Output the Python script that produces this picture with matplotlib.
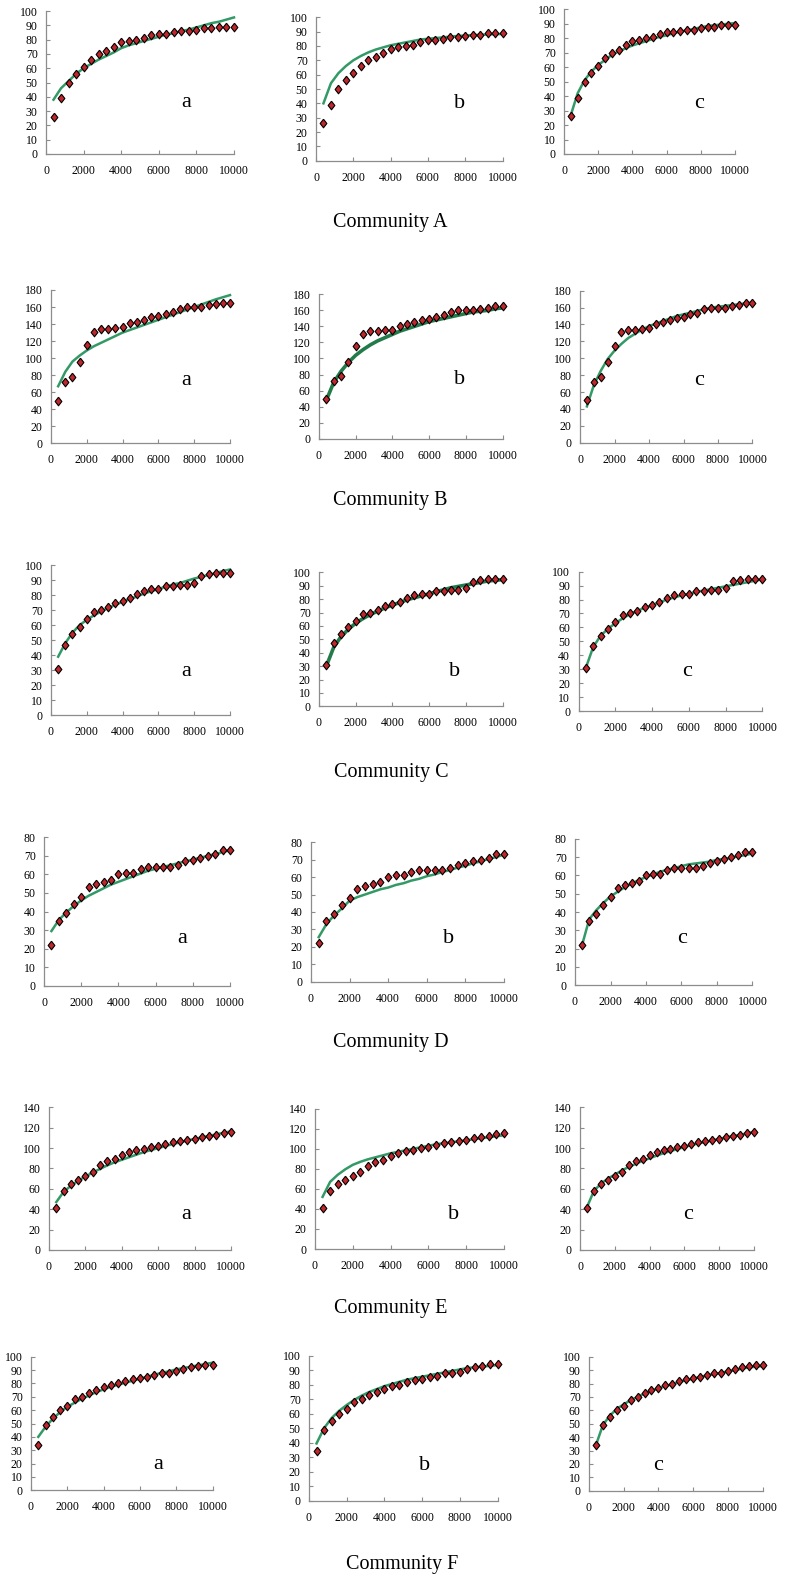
import matplotlib
matplotlib.use("Agg")
import matplotlib.pyplot as plt

plt.rcParams['font.family'] = ['Liberation Serif', 'DejaVu Serif']

# sample sizes (x) shared by every panel
sizes = [400, 800, 1200, 1600, 2000, 2400, 2800, 3200, 3600, 4000, 4400, 4800, 5200,
         5600, 6000, 6400, 6800, 7200, 7600, 8000, 8400, 8800, 9200, 9600, 10000]

# observed values per community
obs_A = [26, 39, 50, 56, 61, 66, 70, 72, 75, 78, 79, 80, 81, 83, 84, 84, 85, 86, 86, 87, 88, 88, 89, 89, 89]
obs_B = [50, 72, 78, 96, 115, 131, 134, 134, 135, 136, 141, 143, 145, 148, 149, 152, 154, 158, 160, 160, 160, 162, 163, 165, 165]
obs_C = [31, 47, 54, 59, 64, 69, 70, 72, 75, 76, 78, 81, 83, 84, 84, 86, 86, 87, 87, 88, 93, 94, 95, 95, 95]
obs_D = [22, 35, 39, 44, 48, 53, 55, 56, 57, 60, 61, 61, 63, 64, 64, 64, 64, 65, 67, 68, 69, 70, 71, 73, 73]
obs_E = [41, 58, 65, 69, 73, 77, 83, 87, 89, 93, 96, 98, 99, 101, 102, 104, 106, 107, 108, 109, 111, 112, 113, 115, 116]
obs_F = [34, 49, 55, 60, 63, 68, 70, 73, 75, 77, 79, 80, 82, 83, 84, 85, 86, 88, 88, 89, 91, 92, 93, 94, 94]

# fitted curves (a, b, c) per community
fit_A_a = [38, 46, 51, 56, 60, 63, 66, 68.5, 71, 74, 76, 77.5, 79, 80.5, 82, 83.5, 84.5, 86, 87, 88.5, 90, 91.5, 92.5, 94, 95.5]
fit_A_b = [40, 54, 61, 66, 70, 73, 75.5, 77.5, 79, 80.5, 81.5, 82.5, 83.5, 84.5, 85, 85.5, 86, 86.5, 87, 87.3, 87.6, 87.8, 88, 88.2, 88.4]
fit_A_c = [27, 42, 51, 57, 61.5, 65, 68.5, 71, 73, 75, 76.5, 78, 79.5, 81, 82, 83.5, 84.5, 85.5, 86.5, 87.5, 88.5, 89, 89.5, 90, 90.5]
fit_B_a = [67, 84, 96, 103, 109, 114, 118, 122, 126, 130, 133, 136, 139, 142, 145, 148, 151, 154, 157, 160, 163, 166, 169, 171.5, 174]
fit_B_b = [48, 70, 84, 95, 104, 111, 117, 122, 126, 130, 134, 137, 140, 143, 146, 148, 150, 152, 154, 156, 158, 159, 160, 162, 163]
fit_B_c = [43, 68, 85, 99, 109, 117, 124, 129, 134, 138, 141, 144, 147, 150, 152, 154, 156, 158, 160, 161, 162, 163, 164, 165, 166]
fit_C_a = [39, 48, 55, 60, 63.5, 66.5, 69, 71.5, 73.5, 75.5, 77.5, 79, 81, 82.5, 84, 85.5, 87, 88, 89.5, 91, 92, 93.5, 94.5, 96, 97]
fit_C_b = [30, 44, 52, 57.5, 62, 65.5, 68.5, 71, 73.5, 75.5, 77.5, 79.5, 81, 82.5, 84, 85.5, 87, 88.5, 89.5, 90.5, 91.5, 92.5, 93.5, 94, 94.5]
fit_C_c = [31, 46, 54, 59, 63, 66.5, 69.5, 72, 74, 76, 78, 80, 81.5, 83, 84, 85.5, 86.5, 87.5, 88.5, 89.5, 90.5, 91.5, 92.5, 93.5, 94.5]
fit_D_a = [29.5, 35.5, 39.5, 43, 46, 48.5, 50.5, 52.5, 54.5, 56, 57.5, 59, 60.5, 62, 63, 64, 65, 66, 67, 68, 69, 70, 71, 72, 73]
fit_D_b = [25.5, 33, 38, 42, 46.5, 48.5, 50, 51.5, 53, 54, 55.5, 56.5, 58, 59, 60.5, 61.5, 63, 64, 65.5, 66.5, 68, 69, 70.5, 71.5, 73]
fit_D_c = [22, 36, 41, 45, 48.5, 51, 53.5, 55.5, 57.5, 59, 60.5, 62, 63, 64, 65, 66, 66.5, 67, 67.5, 68.5, 69, 69.5, 70.5, 71, 72]
fit_E_a = [47, 57, 63, 68, 72, 76, 79.5, 83, 86, 88.5, 91, 93.5, 96, 98, 100, 102, 104, 105.5, 107.5, 109, 110.5, 112, 113.5, 115, 116.5]
fit_E_b = [52, 67, 74, 79.5, 84, 87, 89.5, 91.5, 93.5, 95.5, 97, 98.5, 100, 101.5, 103, 104.5, 105.5, 106.5, 107.5, 108.5, 109.5, 110.5, 111.5, 112.5, 113.5]
fit_E_c = [42, 58, 65, 70, 74, 78, 81.5, 84.5, 87.5, 90, 92.5, 95, 97, 99, 101, 103, 104.5, 106, 107.5, 109, 110.5, 112, 113, 114.5, 116]
fit_F_a = [40, 47.5, 53.5, 58.5, 62.5, 65.5, 68.5, 71, 73.5, 75.5, 77.5, 79, 80.5, 82, 83.5, 85, 86.5, 88, 89, 90.5, 91.5, 92.5, 93.5, 94.5, 95.5]
fit_F_b = [39.5, 50, 57, 62, 66, 69.5, 72.5, 75, 77, 79, 80.5, 82, 83.5, 84.5, 85.5, 86.5, 87.5, 88.5, 89.5, 90.5, 91.5, 92, 92.5, 93, 93.5]
fit_F_c = [34, 49, 56, 61, 64.5, 67.5, 70, 72.5, 74.5, 76.5, 78, 79.5, 81, 82.5, 83.5, 85, 86, 87, 88, 89, 90, 91, 92, 92.5, 93]

communities = ["Community A", "Community B", "Community C", "Community D", "Community E", "Community F"]
y_max = [100, 180, 100, 80, 140, 100]
y_step = [10, 20, 10, 10, 20, 10]
letters = ["a", "b", "c"]

W, H = 785, 1582
GREEN = "#339966"
DARKGREEN = "#237a4a"
RED = "#c0272d"
AXGRAY = "#8c8c8c"
# slightly tall diamond, like the original
DIAMOND = [(0, 1), (0.78, 0), (0, -1), (-0.78, 0), (0, 1)]

# panel boxes in pixels: left, right, top, bottom
boxes = [
    [(46, 234, 11, 154), (316, 502.5, 17.3, 160.7), (564, 735, 9.3, 154)],
    [(51, 230, 290, 443.3), (319, 502.5, 294.3, 438.7), (580, 752.5, 290.7, 442.7)],
    [(51, 230, 565, 715.3), (319, 502.5, 572.3, 706.3), (578.5, 762.5, 571.7, 711)],
    [(44, 230, 837.3, 985.8), (311, 504, 842.3, 981.5), (575, 752.5, 838.7, 985.3)],
    [(49, 231, 1107.3, 1250), (315, 504, 1108.7, 1249), (580, 754, 1107.3, 1250)],
    [(31, 212.5, 1356.7, 1490.3), (309, 497.5, 1355.7, 1500.7), (589, 762.5, 1356.7, 1490.7)],
]
# letter positions in axes fraction
letter_pos = [
    [(0.745, 0.36), (0.772, 0.40), (0.79, 0.35)],
    [(0.754, 0.41), (0.768, 0.41), (0.69, 0.41)],
    [(0.754, 0.29), (0.736, 0.26), (0.59, 0.28)],
    [(0.745, 0.32), (0.715, 0.31), (0.605, 0.32)],
    [(0.753, 0.25), (0.735, 0.244), (0.62, 0.25)],
    [(0.70, 0.19), (0.615, 0.246), (0.40, 0.19)],
]
title_pos = [(390, 223), (390, 500), (391, 773), (391, 1043), (391, 1308), (402, 1565)]

obs_all = [obs_A, obs_B, obs_C, obs_D, obs_E, obs_F]
fit_all = [[fit_A_a, fit_A_b, fit_A_c], [fit_B_a, fit_B_b, fit_B_c], [fit_C_a, fit_C_b, fit_C_c],
           [fit_D_a, fit_D_b, fit_D_c], [fit_E_a, fit_E_b, fit_E_c], [fit_F_a, fit_F_b, fit_F_c]]


def draw(ax, obs, fit, ymax, ystep, letter, lpos, thick):
    if thick:
        ax.plot(sizes, fit, color=DARKGREEN, lw=2.6, zorder=2, clip_on=False)
    else:
        ax.plot(sizes, fit, color=GREEN, lw=1.8, zorder=2, clip_on=False)
    ax.plot(sizes, obs, linestyle='None', marker=DIAMOND, ms=6.2, markerfacecolor=RED,
            markeredgecolor='black', markeredgewidth=0.8, zorder=3, clip_on=False)
    ax.set_xlim(0, 10000)
    ax.set_ylim(0, ymax)
    ax.set_xticks(range(0, 10001, 2000))
    ax.set_yticks(range(0, ymax + 1, ystep))
    for s in ['top', 'right']:
        ax.spines[s].set_visible(False)
    for s in ['left', 'bottom']:
        ax.spines[s].set_color(AXGRAY)
        ax.spines[s].set_linewidth(0.9)
    ax.tick_params(axis='x', direction='in', length=3, color=AXGRAY, labelsize=8.5, pad=8)
    ax.tick_params(axis='y', direction='in', length=3, color=AXGRAY, labelsize=8.5, pad=6)
    ax.set_facecolor('none')
    ax.text(lpos[0], lpos[1], letter, transform=ax.transAxes, fontsize=16,
            ha='center', va='center')


fig = plt.figure(figsize=(W / 100, H / 100), dpi=100)

for r in range(6):
    for c in range(3):
        l, rr, t, b = boxes[r][c]
        ax = fig.add_axes([l / W, 1 - b / H, (rr - l) / W, (b - t) / H])
        thick = (c == 1 and r in (1, 2))
        draw(ax, obs_all[r], fit_all[r][c], y_max[r], y_step[r], letters[c], letter_pos[r][c], thick)
    tx, ty = title_pos[r]
    fig.text(tx / W, 1 - ty / H, communities[r], fontsize=14.5, ha='center', va='center')

fig.savefig("out.png", dpi=100)
